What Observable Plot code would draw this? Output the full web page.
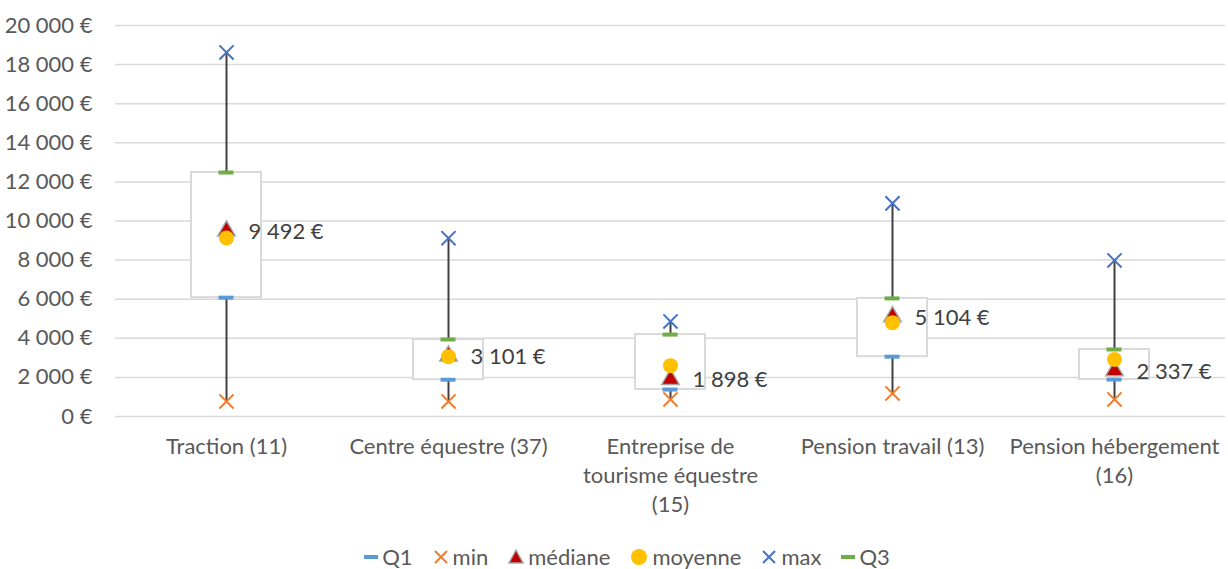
<!DOCTYPE html>
<html><head><meta charset="utf-8">
<script src="https://cdn.jsdelivr.net/npm/d3@7"></script>
<script src="https://cdn.jsdelivr.net/npm/@observablehq/plot@0.6"></script>
<style>
body{margin:0;background:#fff;font-family:Lato,"Open Sans",sans-serif;}
#legend{display:flex;justify-content:center;align-items:center;width:1228px;height:29px;padding-left:26px;padding-top:4px;box-sizing:border-box;font-size:22px;color:#595959;gap:0}
#legend .it{display:flex;align-items:center;margin:0 10px}
#legend svg{margin-right:4px}
</style>
</head><body><div id="chart"></div>
<script>
const categories = ["Traction (11)", "Centre équestre (37)", "Entreprise de\ntourisme équestre\n(15)", "Pension travail (13)", "Pension hébergement\n(16)"];
const q1Values = [6080, 1880, 1380, 3060, 1890];
const minValues = [770, 770, 870, 1180, 870];
const medianValues = [9492, 3101, 1898, 5104, 2337];
const meanValues = [9130, 3060, 2600, 4800, 2920];
const maxValues = [18620, 9120, 4860, 10900, 7980];
const q3Values = [12480, 3940, 4190, 6040, 3430];
const yTicks = [0, 2000, 4000, 6000, 8000, 10000, 12000, 14000, 16000, 18000, 20000];
const legendLabels = ["Q1", "min", "médiane", "moyenne", "max", "Q3"];

const colors = {q1:"#5b9bd5", min:"#ed7d31", median:"#c00000", mean:"#ffc000", max:"#4472c4", q3:"#70ad47"};

const data = categories.map((c, i) => ({
  cat: c, q1: q1Values[i], min: minValues[i], median: medianValues[i],
  mean: meanValues[i], max: maxValues[i], q3: q3Values[i]
}));

const euro = v => d3.format(",")(v).replace(/,/g, " ") + " €";
const FS = 22;

const plot = Plot.plot({
  width: 1228, height: 540,
  marginTop: 25, marginBottom: 124, marginLeft: 115, marginRight: 3,
  style: {fontFamily: "Lato, 'Open Sans', sans-serif", fontSize: FS + "px", color: "#595959", background: "#fff"},
  x: {domain: categories, padding: 0, label: null},
  y: {domain: [0, 20000], label: null},
  marks: [
    Plot.gridY(yTicks, {stroke: "#d9d9d9", strokeOpacity: 1, strokeWidth: 1.5}),
    Plot.axisY({ticks: yTicks, tickFormat: euro, tickSize: 0, tickPadding: 23, fontSize: FS, fill: "#595959", label: null}),
    Plot.axisX({tickSize: 0, tickPadding: 17, fontSize: FS, lineHeight: 29 / FS, fill: "#595959", label: null}),
    Plot.ruleX(data, {x: "cat", y1: "min", y2: "max", stroke: "#404040", strokeWidth: 2}),
    Plot.barY(data, {x: "cat", y1: "q1", y2: "q3", fill: "#fff", stroke: "#d9d9d9", strokeWidth: 2, insetLeft: 76, insetRight: 76}),
    Plot.tickY(data, {x: "cat", y: "q1", stroke: colors.q1, strokeWidth: 4, insetLeft: 103.5, insetRight: 103.5}),
    Plot.dot(data, {x: "cat", y: "min", symbol: "times", r: 6.5, stroke: colors.min, strokeWidth: 2}),
    Plot.dot(data, {x: "cat", y: "median", symbol: "triangle", r: 6.5, fill: colors.median, stroke: "#a5a5a5", strokeWidth: 1.5}),
    Plot.dot(data, {x: "cat", y: "mean", symbol: "circle", r: 7.5, fill: colors.mean, stroke: "none"}),
    Plot.dot(data, {x: "cat", y: "max", symbol: "times", r: 6.5, stroke: colors.max, strokeWidth: 2}),
    Plot.tickY(data, {x: "cat", y: "q3", stroke: colors.q3, strokeWidth: 4, insetLeft: 103.5, insetRight: 103.5}),
    Plot.text(data, {x: "cat", y: "median", text: d => euro(d.median), textAnchor: "start", dx: 22, dy: 1, fontSize: FS, fill: "#404040"})
  ]
});
document.getElementById("chart").append(plot);

// legend
const sym = {
  "Q1": `<svg width="14" height="20"><line x1="0" x2="14" y1="10" y2="10" stroke="${colors.q1}" stroke-width="4"/></svg>`,
  "min": `<svg width="16" height="20"><path d="M2,4L14,16M14,4L2,16" stroke="${colors.min}" stroke-width="2"/></svg>`,
  "médiane": `<svg width="16" height="20"><path d="M8,3L15,16L1,16Z" fill="${colors.median}" stroke="#a5a5a5" stroke-width="1.5"/></svg>`,
  "moyenne": `<svg width="18" height="20"><circle cx="9" cy="10" r="8" fill="${colors.mean}"/></svg>`,
  "max": `<svg width="16" height="20"><path d="M2,4L14,16M14,4L2,16" stroke="${colors.max}" stroke-width="2"/></svg>`,
  "Q3": `<svg width="14" height="20"><line x1="0" x2="14" y1="10" y2="10" stroke="${colors.q3}" stroke-width="4"/></svg>`
};
const lg = document.createElement("div");
lg.id = "legend";
lg.innerHTML = legendLabels.map(l => `<div class="it">${sym[l]}<span>${l}</span></div>`).join("");
document.body.append(lg);
</script>
</body></html>
